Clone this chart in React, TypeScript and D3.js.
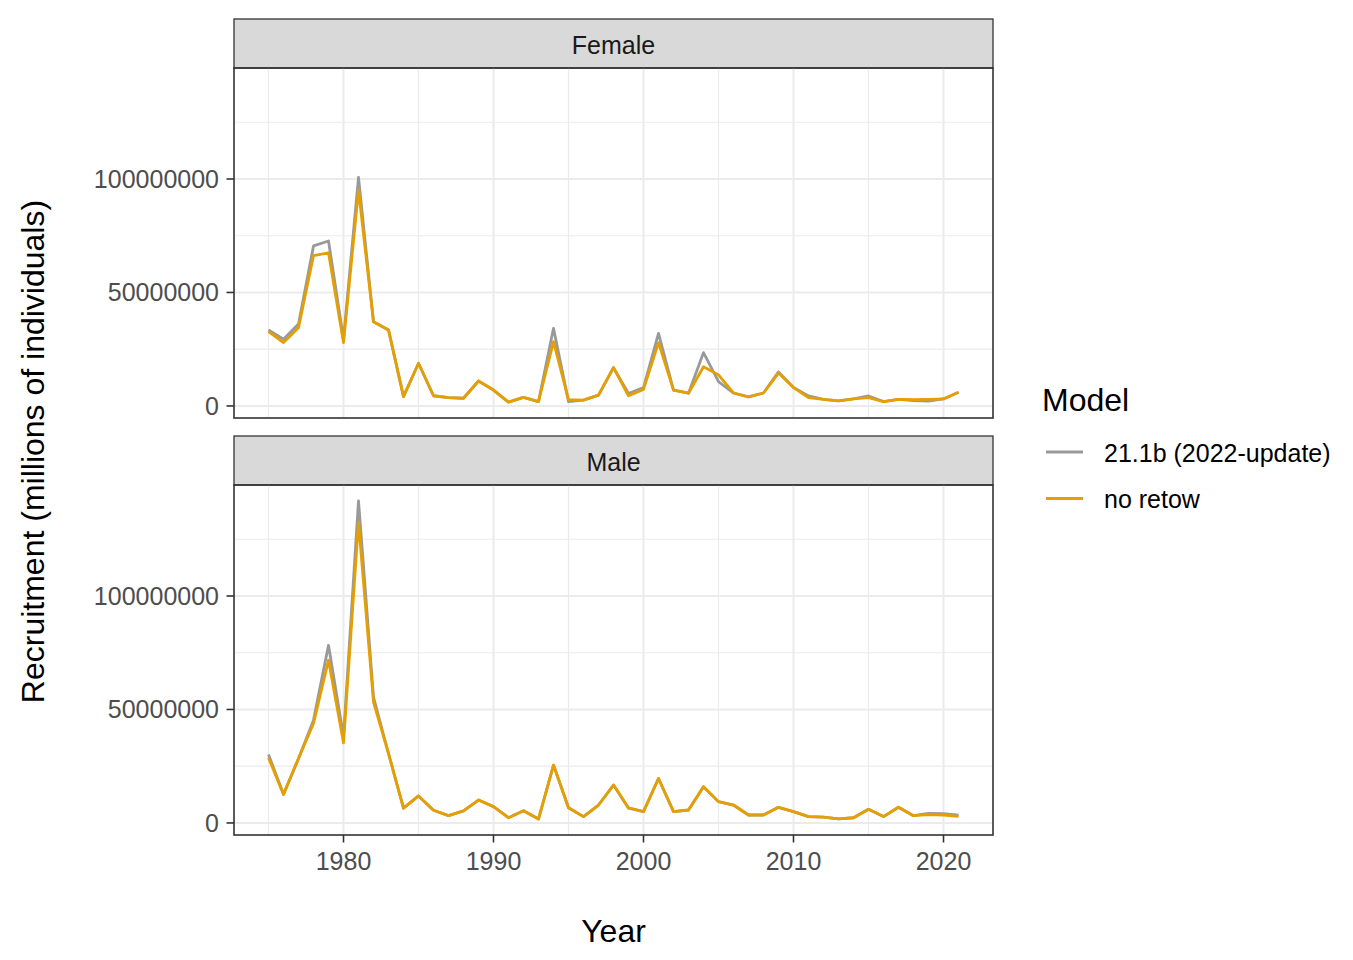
import React from "react";
import * as d3 from "d3";

// Recruitment by year, millions of individuals
const years = [
  1975, 1976, 1977, 1978, 1979, 1980, 1981, 1982, 1983, 1984,
  1985, 1986, 1987, 1988, 1989, 1990, 1991, 1992, 1993, 1994,
  1995, 1996, 1997, 1998, 1999, 2000, 2001, 2002, 2003, 2004,
  2005, 2006, 2007, 2008, 2009, 2010, 2011, 2012, 2013, 2014,
  2015, 2016, 2017, 2018, 2019, 2020, 2021,
];

const femaleBase = [
  33.5, 29.4, 36.1, 70.5, 72.7, 29.5, 100.7, 37.1, 33.5, 4.1,
  18.8, 4.5, 3.7, 3.4, 11.0, 7.0, 1.7, 3.8, 1.9, 34.2,
  1.9, 2.6, 4.8, 16.9, 5.5, 8.1, 32.0, 7.0, 5.6, 23.5,
  10.7, 5.7, 4.0, 5.7, 15.0, 8.1, 4.4, 2.9, 2.2, 3.1,
  4.4, 1.9, 2.9, 2.4, 2.1, 3.1, 6.0,
];
const femaleNoRetow = [
  32.7, 27.9, 34.5, 66.2, 67.5, 27.9, 95.1, 37.1, 33.5, 4.1,
  18.8, 4.5, 3.7, 3.4, 11.0, 7.0, 1.7, 3.8, 1.9, 28.3,
  2.8, 2.6, 4.8, 16.9, 4.5, 7.3, 27.9, 7.0, 5.6, 17.3,
  13.7, 5.7, 4.0, 5.7, 14.5, 8.1, 3.7, 2.9, 2.2, 3.1,
  3.7, 1.9, 2.9, 2.8, 2.9, 3.1, 6.0,
];
const maleBase = [
  30.2, 12.6, 28.4, 45.3, 78.3, 38.0, 141.9, 55.5, 30.6, 6.5,
  11.9, 5.6, 3.2, 5.3, 10.1, 7.2, 2.3, 5.4, 1.7, 25.5,
  6.7, 2.8, 7.9, 16.7, 6.5, 5.0, 19.6, 5.0, 5.7, 16.0,
  9.4, 7.9, 3.5, 3.5, 6.9, 5.0, 2.8, 2.6, 1.8, 2.3,
  6.0, 2.8, 6.9, 3.2, 4.2, 4.1, 3.4,
];
const maleNoRetow = [
  28.7, 12.6, 28.4, 43.8, 71.7, 35.3, 132.5, 53.3, 30.6, 6.5,
  11.9, 5.6, 3.2, 5.3, 10.1, 7.2, 2.3, 5.4, 1.7, 25.5,
  6.7, 2.8, 7.9, 16.7, 6.7, 5.0, 19.6, 5.0, 5.7, 16.0,
  9.4, 7.9, 3.5, 3.5, 6.9, 5.0, 2.8, 2.6, 1.8, 2.3,
  6.0, 2.8, 6.9, 3.2, 3.7, 3.5, 2.9,
];

const models = ["21.1b (2022-update)", "no retow"];
const modelColors = ["#999999", "#E69F00"];
const panels = ["Female", "Male"];
const panelSeries = [
  [femaleBase, femaleNoRetow],
  [maleBase, maleNoRetow],
];

const xMajor = [1980, 1990, 2000, 2010, 2020];
const xMinor = [1975, 1985, 1995, 2005, 2015];
const yMajor = [0, 50000000, 100000000];
const yMinor = [25000000, 75000000, 125000000];

const FONT = "'Liberation Sans', Arial, Helvetica, sans-serif";

const W = 1353;
const H = 960;
const left = 234;
const right = 993;
const stripH = 49;
const panelH = 350;
const panelTops = [68, 485];
const TICK_FS = 25;
const TITLE_FS = 32;

function expand(lo: number, hi: number): [number, number] {
  const pad = (hi - lo) * 0.05;
  return [lo - pad, hi + pad];
}

export default function App() {
  const allValues = panelSeries.flat(2).map((v) => v * 1e6);
  const yExt = expand(d3.min(allValues)!, d3.max(allValues)!);
  const xExt = expand(d3.min(years)!, d3.max(years)!);
  const x = d3.scaleLinear().domain(xExt).range([left, right]);

  return (
    <svg
      width={W}
      height={H}
      style={{ position: "absolute", left: 0, top: 0, background: "#fff" }}
      fontFamily={FONT}
    >
      <rect x={0} y={0} width={W} height={H} fill="#fff" />
      {panels.map((name, pi) => {
        const top = panelTops[pi];
        const bottom = top + panelH;
        const y = d3.scaleLinear().domain(yExt).range([bottom, top]);
        const line = d3
          .line<number>()
          .x((_, i) => x(years[i]))
          .y((v) => y(v * 1e6));
        return (
          <g key={name}>
            {/* strip */}
            <rect
              x={left}
              y={top - stripH}
              width={right - left}
              height={stripH}
              fill="#D9D9D9"
              stroke="#333333"
              strokeWidth={1.3}
            />
            <text
              x={(left + right) / 2}
              y={top - stripH / 2 + 1.5}
              dy="0.35em"
              textAnchor="middle"
              fontSize={TICK_FS}
              fill="#1A1A1A"
            >
              {name}
            </text>
            {/* grid */}
            {yMinor.map((t) => (
              <line key={"ym" + t} x1={left} x2={right} y1={y(t)} y2={y(t)} stroke="#EBEBEB" strokeWidth={1.2} />
            ))}
            {xMinor.map((t) => (
              <line key={"xm" + t} x1={x(t)} x2={x(t)} y1={top} y2={bottom} stroke="#EBEBEB" strokeWidth={1.2} />
            ))}
            {yMajor.map((t) => (
              <line key={"yM" + t} x1={left} x2={right} y1={y(t)} y2={y(t)} stroke="#EBEBEB" strokeWidth={2} />
            ))}
            {xMajor.map((t) => (
              <line key={"xM" + t} x1={x(t)} x2={x(t)} y1={top} y2={bottom} stroke="#EBEBEB" strokeWidth={2} />
            ))}
            {/* series */}
            {panelSeries[pi].map((vals, si) => (
              <path
                key={si}
                d={line(vals) || ""}
                fill="none"
                stroke={modelColors[si]}
                strokeWidth={2.8}
                strokeLinejoin="round"
              />
            ))}
            {/* panel border */}
            <rect x={left} y={top} width={right - left} height={panelH} fill="none" stroke="#333333" strokeWidth={1.6} />
            {/* y axis */}
            {yMajor.map((t) => (
              <g key={"yt" + t}>
                <line x1={left - 7.5} x2={left} y1={y(t)} y2={y(t)} stroke="#333333" strokeWidth={1.6} />
                <text
                  x={left - 15}
                  y={y(t)}
                  dy="0.35em"
                  textAnchor="end"
                  fontSize={TICK_FS}
                  fill="#4D4D4D"
                >
                  {d3.format("d")(t)}
                </text>
              </g>
            ))}
          </g>
        );
      })}
      {/* x axis (bottom panel only) */}
      {xMajor.map((t) => {
        const bottom = panelTops[1] + panelH;
        return (
          <g key={"xt" + t}>
            <line x1={x(t)} x2={x(t)} y1={bottom} y2={bottom + 7.5} stroke="#333333" strokeWidth={1.6} />
            <text x={x(t)} y={bottom + 34.5} textAnchor="middle" fontSize={TICK_FS} fill="#4D4D4D">
              {t}
            </text>
          </g>
        );
      })}
      {/* axis titles */}
      <text x={(left + right) / 2} y={942} textAnchor="middle" fontSize={TITLE_FS} fill="#000">
        Year
      </text>
      <text
        transform={`translate(44, ${(panelTops[0] + panelTops[1] + panelH) / 2}) rotate(-90)`}
        textAnchor="middle"
        fontSize={TITLE_FS}
        fill="#000"
      >
        Recruitment (millions of individuals)
      </text>
      {/* legend */}
      <text x={1042} y={411} fontSize={TITLE_FS} fill="#000">
        Model
      </text>
      {models.map((m, i) => {
        const ly = 452 + i * 46.5;
        return (
          <g key={m}>
            <line x1={1046} x2={1083} y1={ly} y2={ly} stroke={modelColors[i]} strokeWidth={2.8} />
            <text x={1104} y={ly + 1} dy="0.35em" fontSize={TICK_FS} fill="#000">
              {m}
            </text>
          </g>
        );
      })}
    </svg>
  );
}
